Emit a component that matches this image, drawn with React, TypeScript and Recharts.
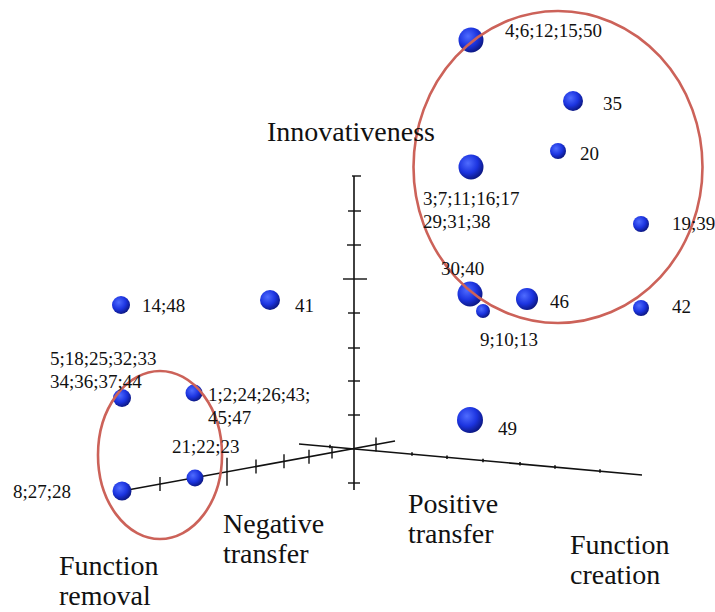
import React from "react";
import { ScatterChart, Scatter, XAxis, YAxis, ReferenceLine } from "recharts";

// Projected (screen-space) positions of the 3D scatter points
const bubbles = [
  { id: "4;6;12;15;50", x: 471, y: 40, r: 12.5 },
  { id: "35", x: 573, y: 101, r: 10 },
  { id: "20", x: 558, y: 151, r: 8 },
  { id: "3;7;11;16;17;29;31;38", x: 471, y: 167, r: 12.5 },
  { id: "19;39", x: 641, y: 224, r: 8 },
  { id: "30;40", x: 470, y: 294, r: 12.5 },
  { id: "9;10;13", x: 483, y: 311, r: 7 },
  { id: "46", x: 527, y: 299, r: 11 },
  { id: "42", x: 641, y: 308, r: 8 },
  { id: "14;48", x: 121, y: 305, r: 9 },
  { id: "41", x: 270, y: 300, r: 10 },
  { id: "5;18;25;32;33;34;36;37;44", x: 122, y: 398, r: 9 },
  { id: "1;2;24;26;43;45;47", x: 194, y: 393, r: 8.5 },
  { id: "21;22;23", x: 195, y: 478, r: 8.5 },
  { id: "8;27;28", x: 122, y: 491, r: 9.5 },
  { id: "49", x: 470, y: 420, r: 13 },
];

const pointLabels = [
  { x: 505, y: 37, lines: ["4;6;12;15;50"] },
  { x: 603, y: 110, lines: ["35"] },
  { x: 580, y: 160, lines: ["20"] },
  { x: 423, y: 205, lines: ["3;7;11;16;17", "29;31;38"] },
  { x: 672, y: 230, lines: ["19;39"] },
  { x: 441, y: 275, lines: ["30;40"] },
  { x: 550, y: 308, lines: ["46"] },
  { x: 672, y: 313, lines: ["42"] },
  { x: 480, y: 346, lines: ["9;10;13"] },
  { x: 142, y: 312, lines: ["14;48"] },
  { x: 295, y: 312, lines: ["41"] },
  { x: 50, y: 365, lines: ["5;18;25;32;33", "34;36;37;44"] },
  { x: 208, y: 401, lines: ["1;2;24;26;43;", "45;47"] },
  { x: 172, y: 453, lines: ["21;22;23"] },
  { x: 13, y: 498, lines: ["8;27;28"] },
  { x: 498, y: 435, lines: ["49"] },
];

const axisTitles = [
  { x: 267, y: 141, lines: ["Innovativeness"] },
  { x: 223, y: 533, lines: ["Negative", "transfer"] },
  { x: 408, y: 513, lines: ["Positive", "transfer"] },
  { x: 570, y: 554, lines: ["Function", "creation"] },
  { x: 59, y: 575, lines: ["Function", "removal"] },
];

const groupEllipses = [
  { x: 558, y: 167, rx: 144.5, ry: 156 },
  { x: 160, y: 455, rx: 62, ry: 84 },
];

const axisSegments = [
  [{ x: 354, y: 176 }, { x: 354, y: 490 }],
  [{ x: 122, y: 491 }, { x: 395, y: 441 }],
  [{ x: 299, y: 444 }, { x: 642, y: 475 }],
];

// vertical axis ticks: [y, left extent, right extent]
const verticalTicks = [
  [176, 352, 361],
  [211, 348, 361],
  [245, 347, 361],
  [279, 343, 367],
  [313, 348, 360],
  [348, 348, 360],
  [381, 348, 360],
  [415, 348, 360],
  [483, 348, 360],
];

// ticks on the negative-transfer axis: [x, half length]
const negativeTicks = [
  [160, 7],
  [227, 14],
  [256, 7],
  [284, 7],
  [309, 7],
  [332, 6],
  [376, 7],
];

// small ticks on the positive-transfer axis
const positiveTicks = [330, 412, 447, 483, 520, 555, 600];

const negY = (x: number) => 491 + ((x - 122) * (441 - 491)) / (395 - 122);
const posY = (x: number) => 444 + ((x - 299) * (475 - 444)) / (642 - 299);

const FONT = "'Liberation Serif', 'Times New Roman', serif";

const Ball = (props: any) => {
  const { cx, cy, payload, index } = props;
  if (cx == null || cy == null) return null;
  const id = `ballGrad${index}`;
  return (
    <g>
      <defs>
        <radialGradient id={id} cx="38%" cy="35%" r="70%">
          <stop offset="0%" stopColor="#4f6cff" />
          <stop offset="55%" stopColor="#1c34e0" />
          <stop offset="100%" stopColor="#0a1478" />
        </radialGradient>
      </defs>
      <circle cx={cx} cy={cy} r={payload.r} fill={`url(#${id})`} />
    </g>
  );
};

const makeText = (size: number, lineH: number) => (props: any) => {
  const { cx, cy, payload } = props;
  if (cx == null || cy == null) return null;
  return (
    <text x={cx} y={cy} fontFamily={FONT} fontSize={size} fill="#111">
      {payload.lines.map((l: string, i: number) => (
        <tspan key={i} x={cx} y={cy + i * lineH}>
          {l}
        </tspan>
      ))}
    </text>
  );
};

const SmallText = makeText(19, 23);
const BigText = makeText(28, 29.5);

const Ring = (props: any) => {
  const { cx, cy, payload } = props;
  if (cx == null || cy == null) return null;
  return (
    <ellipse
      cx={cx}
      cy={cy}
      rx={payload.rx}
      ry={payload.ry}
      fill="none"
      stroke="#cc6259"
      strokeWidth={2.6}
    />
  );
};

export default function App() {
  return (
    <div style={{ position: "absolute", left: 0, top: 0, background: "#fff" }}>
      <ScatterChart
        width={715}
        height={612}
        margin={{ top: 0, right: 0, bottom: 0, left: 0 }}
      >
        <XAxis type="number" dataKey="x" domain={[0, 715]} hide allowDataOverflow />
        <YAxis type="number" dataKey="y" domain={[0, 612]} reversed hide allowDataOverflow />
        {axisSegments.map((seg, i) => (
          <ReferenceLine
            key={`ax${i}`}
            segment={seg}
            stroke="#111"
            strokeWidth={1.6}
            ifOverflow="visible"
          />
        ))}
        {verticalTicks.map(([y, x1, x2], i) => (
          <ReferenceLine
            key={`vt${i}`}
            segment={[
              { x: x1, y },
              { x: x2, y },
            ]}
            stroke="#111"
            strokeWidth={1.4}
            ifOverflow="visible"
          />
        ))}
        {negativeTicks.map(([x, h], i) => (
          <ReferenceLine
            key={`nt${i}`}
            segment={[
              { x, y: negY(x) - h },
              { x, y: negY(x) + h },
            ]}
            stroke="#111"
            strokeWidth={1.4}
            ifOverflow="visible"
          />
        ))}
        {positiveTicks.map((x, i) => (
          <ReferenceLine
            key={`pt${i}`}
            segment={[
              { x, y: posY(x) - 2 },
              { x, y: posY(x) + 1.5 },
            ]}
            stroke="#111"
            strokeWidth={1.6}
            ifOverflow="visible"
          />
        ))}
        <Scatter data={bubbles} shape={Ball} isAnimationActive={false} />
        <Scatter data={groupEllipses} shape={Ring} isAnimationActive={false} />
        <Scatter data={pointLabels} shape={SmallText} isAnimationActive={false} />
        <Scatter data={axisTitles} shape={BigText} isAnimationActive={false} />
      </ScatterChart>
    </div>
  );
}
